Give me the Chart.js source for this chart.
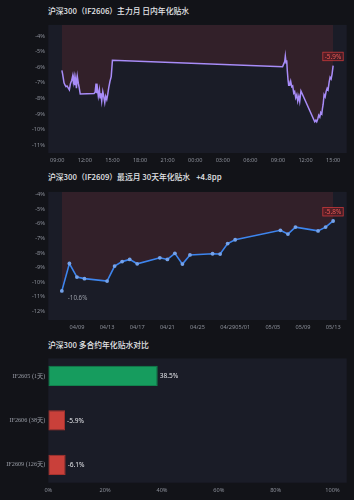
<!DOCTYPE html>
<html>
<head>
<meta charset="utf-8">
<script src="https://cdn.jsdelivr.net/npm/chart.js@4.4.1/dist/chart.umd.min.js"></script>
<style>
  html, body { margin: 0; padding: 0; background: #121318; }
  body { width: 354px; height: 500px; position: relative; overflow: hidden; font-family: 'Noto Sans CJK SC', 'Noto Sans', sans-serif; }
  .title { position: absolute; left: 48px; color: #e4e5e8; font-size: 7.8px; font-weight: 500; line-height: 10px; white-space: pre; }
  .box { position: absolute; left: 0; width: 354px; }
  canvas { display: block; }
</style>
</head>
<body>

<div class="title" style="top:6px">沪深300（IF2606）主力月 日内年化贴水</div>
<div class="box" style="top:18px"><canvas id="intraday-chart" width="354" height="150"></canvas></div>

<div class="title" style="top:172px">沪深300（IF2609）最远月 30天年化贴水<span style="margin-left:6px">+4.8pp</span></div>
<div class="box" style="top:185px"><canvas id="far-month-chart" width="354" height="150"></canvas></div>

<div class="title" style="top:340px">沪深300 多合约年化贴水对比</div>
<div class="box" style="top:347px"><canvas id="contracts-chart" width="354" height="153"></canvas></div>

<script>
/* Intraday annualised discount, IF2606 (two sessions) */
let day1Times = ['09:30', '09:35', '09:40', '09:44', '09:51', '09:57', '10:04', '10:13', '10:19', '10:26',
    '10:34', '10:41', '10:45', '10:50', '10:54', '11:00', '11:05', '11:11', '11:18', '11:22', '11:30',
    '13:00', '13:07', '13:13', '13:17', '13:22', '13:28', '13:35', '13:39', '13:44', '13:50',
    '13:57', '14:03', '14:10', '14:16', '14:23', '14:29', '14:36', '14:44', '14:52', '15:00']
let day1Values = [-6.2, -6.44, -6.74, -7.0, -7.15, -7.25, -7.2, -7.35, -7.45, -7.05,
    -6.85, -6.54, -6.95, -6.64, -7.15, -6.74, -7.35, -6.6, -7.05, -7.25, -7.72,
    -7.68, -7.6, -7.05, -7.66, -7.35, -7.86, -7.45, -7.96, -7.66, -8.17,
    -7.56, -7.86, -8.27, -7.86, -8.07, -7.76, -7.3, -6.9, -6.6, -5.55]

let day2Times = ['09:30', '09:37', '09:44', '09:48', '09:53', '09:57', '10:01', '10:06', '10:10', '10:17',
    '10:23', '10:30', '10:36', '10:43', '10:49', '10:56', '11:03', '11:09', '11:16', '11:22', '11:30',
    '13:00', '13:07', '13:13', '13:20', '13:26', '13:33', '13:39', '13:46', '13:50', '13:55',
    '14:01', '14:08', '14:14', '14:21', '14:27', '14:34', '14:40', '14:47', '14:53', '15:00']
let day2Values = [-5.97, -5.8, -5.63, -5.28, -5.73, -5.55, -6.24, -6.85, -7.15, -7.15,
    -6.9, -7.25, -7.2, -7.66, -7.56, -7.96, -7.76, -8.17, -7.86, -8.2, -7.52,
    -9.5, -9.4, -9.5, -9.3, -9.08, -9.2, -8.9, -9.0, -8.67, -8.37,
    -7.76, -7.9, -7.56, -7.35, -7.45, -6.95, -6.64, -6.75, -6.44, -5.9]

// hours counted from midnight of the first day
let intradayTickHours = [9, 12, 15, 18, 21, 24, 27, 30, 33, 36, 39]

/* Far month IF2609, 30 day annualised discount */
let farDates = ['04/07', '04/08', '04/09', '04/10', '04/13', '04/14', '04/15', '04/16', '04/17', '04/20',
    '04/21', '04/22', '04/23', '04/24', '04/27', '04/28', '04/29', '04/30', '05/06', '05/07',
    '05/08', '05/11', '05/12', '05/13']
let farValues = [-10.6, -8.72, -9.65, -9.76, -9.93, -8.9, -8.59, -8.44, -8.74, -8.33,
    -8.44, -8.02, -8.76, -8.13, -8.05, -8.07, -7.35, -7.09, -6.44, -6.7,
    -6.22, -6.48, -6.22, -5.8]
let farTickDates = ['04/09', '04/13', '04/17', '04/21', '04/25', '04/29', '05/01', '05/05', '05/09', '05/13']

/* Contract comparison */
let contractLabels = ['IF2605 (1天)', 'IF2606 (38天)', 'IF2609 (126天)']
let contractRates = [38.5, -5.9, -6.1]

let year = 2026
let DAY = 86400000

/* Colours */
let plotColor = '#1a1c27'
let fillColor = 'rgba(220, 60, 60, 0.13)'
let tickColor = '#8b8f99'

Chart.defaults.font.family = "'Noto Sans', 'Noto Sans CJK SC', sans-serif"
Chart.defaults.font.size = 5.6
Chart.defaults.color = tickColor
Chart.defaults.animation = false

function toHours(time, dayOffset) {
    let parts = time.split(':')
    return dayOffset * 24 + Number(parts[0]) + Number(parts[1]) / 60
}

function toDay(date) {
    let parts = date.split('/')
    return Date.UTC(year, Number(parts[0]) - 1, Number(parts[1])) / DAY
}

function pad(n) {
    return String(n).padStart(2, '0')
}

// Plot area background, optionally inset from the chart area
let plotBackground = {
    id: 'plotBackground',
    beforeDraw(chart, args, opts) {
        let a = chart.chartArea
        let top = a.top + (opts.insetTop || 0)
        let bottom = a.bottom - (opts.insetBottom || 0)
        chart.ctx.save()
        chart.ctx.fillStyle = plotColor
        chart.ctx.fillRect(a.left, top, a.right - a.left, bottom - top)
        chart.ctx.restore()
    }
}

// Red badge with the latest value, above the last point
let lastValueBadge = {
    id: 'lastValueBadge',
    afterDatasetsDraw(chart, args, opts) {
        if (!opts.show) return
        let ctx = chart.ctx
        let meta = chart.getDatasetMeta(0)
        let data = chart.data.datasets[0].data
        let point = meta.data[data.length - 1]
        let text = data[data.length - 1].y.toFixed(1) + '%'
        ctx.save()
        ctx.font = "6.4px 'Noto Sans'"
        let w = ctx.measureText(text).width + 4
        let h = 8.5
        let x = chart.chartArea.right - 3.5 - w
        let y = point.y - 5 - h
        ctx.fillStyle = 'rgba(150, 30, 35, 0.35)'
        ctx.fillRect(x, y, w, h)
        ctx.strokeStyle = '#c8393b'
        ctx.lineWidth = 0.8
        ctx.strokeRect(x, y, w, h)
        ctx.fillStyle = '#ef5a55'
        ctx.textAlign = 'center'
        ctx.textBaseline = 'middle'
        ctx.fillText(text, x + w / 2, y + h / 2 + 0.3)
        ctx.restore()
    }
}

// Grey label next to the lowest point
let minValueLabel = {
    id: 'minValueLabel',
    afterDatasetsDraw(chart, args, opts) {
        if (!opts.show) return
        let ctx = chart.ctx
        let data = chart.data.datasets[0].data
        let minIndex = 0
        data.forEach((d, i) => { if (d.y < data[minIndex].y) minIndex = i })
        let point = chart.getDatasetMeta(0).data[minIndex]
        ctx.save()
        ctx.font = "6.2px 'Noto Sans'"
        ctx.fillStyle = '#9a9ea8'
        ctx.textBaseline = 'middle'
        ctx.fillText(data[minIndex].y.toFixed(1) + '%', point.x + 6, point.y + 7)
        ctx.restore()
    }
}

// Signed value labels at the end of each bar
let barValueLabels = {
    id: 'barValueLabels',
    afterDatasetsDraw(chart) {
        let ctx = chart.ctx
        ctx.save()
        ctx.font = "6.6px 'Noto Sans'"
        ctx.fillStyle = '#e3e4e8'
        ctx.textBaseline = 'middle'
        chart.getDatasetMeta(0).data.forEach((bar, i) => {
            ctx.fillText(contractRates[i].toFixed(1) + '%', bar.x + 2, bar.y + 0.5)
        })
        ctx.restore()
    }
}

function fixedTicks(values) {
    return function(scale) {
        scale.ticks = values.map(v => ({ value: v }))
    }
}

function lineChartOptions(xMin, xMax, yMin, yMax, xTicks, xFormat, plugins) {
    return {
        responsive: false,
        layout: { padding: { left: 0, right: 7.3, top: 0, bottom: 0 } },
        plugins: Object.assign({ legend: { display: false }, tooltip: { enabled: false } }, plugins),
        scales: {
            x: {
                type: 'linear',
                min: xMin,
                max: xMax,
                grid: { display: false, drawTicks: false },
                border: { display: false },
                afterBuildTicks: fixedTicks(xTicks),
                afterFit: scale => { scale.height = 15 },
                ticks: { autoSkip: false, maxRotation: 0, padding: 4, callback: xFormat }
            },
            y: {
                min: yMin,
                max: yMax,
                grid: { display: false, drawTicks: false },
                border: { display: false },
                afterFit: scale => { scale.width = 48.3 },
                ticks: { stepSize: 1, includeBounds: false, padding: 3.5, callback: v => v + '%' }
            }
        }
    }
}

/* Chart 1: intraday */
let intradayPoints = day1Times.map((t, i) => ({ x: toHours(t, 0), y: day1Values[i] }))
    .concat(day2Times.map((t, i) => ({ x: toHours(t, 1), y: day2Values[i] })))
let intradayAll = day1Values.concat(day2Values)
let hFirst = intradayPoints[0].x
let hLast = intradayPoints[intradayPoints.length - 1].x
let hPad = (hLast - hFirst) * 0.05

new Chart(document.querySelector('#intraday-chart'), {
    type: 'line',
    data: {
        datasets: [{
            data: intradayPoints,
            borderColor: '#a88cf8',
            borderWidth: 1.5,
            backgroundColor: fillColor,
            fill: 'end',
            pointRadius: 0,
            tension: 0
        }]
    },
    options: lineChartOptions(
        hFirst - hPad, hLast + hPad,
        Math.min(...intradayAll) - 2, Math.max(...intradayAll) + 2,
        intradayTickHours,
        v => pad(Math.round(v) % 24) + ':00',
        { lastValueBadge: { show: true } }
    ),
    plugins: [plotBackground, lastValueBadge]
})

/* Chart 2: far month */
let farPoints = farDates.map((d, i) => ({ x: toDay(d), y: farValues[i] }))
let dFirst = farPoints[0].x
let dLast = farPoints[farPoints.length - 1].x
let dPad = (dLast - dFirst) * 0.05

new Chart(document.querySelector('#far-month-chart'), {
    type: 'line',
    data: {
        datasets: [{
            data: farPoints,
            borderColor: '#3d85ee',
            borderWidth: 1.6,
            backgroundColor: fillColor,
            fill: 'end',
            pointRadius: 1.9,
            pointBackgroundColor: '#74a2ea',
            pointBorderWidth: 0,
            tension: 0
        }]
    },
    options: lineChartOptions(
        dFirst - dPad, dLast + dPad,
        Math.min(...farValues) - 2, Math.max(...farValues) + 2,
        farTickDates.map(toDay),
        v => {
            let d = new Date(Math.round(v) * DAY)
            return pad(d.getUTCMonth() + 1) + '/' + pad(d.getUTCDate())
        },
        { lastValueBadge: { show: true }, minValueLabel: { show: true } }
    ),
    plugins: [plotBackground, lastValueBadge, minValueLabel]
})

/* Chart 3: contract comparison, bar length is the size of the discount */
new Chart(document.querySelector('#contracts-chart'), {
    type: 'bar',
    data: {
        labels: contractLabels,
        datasets: [{
            data: contractRates.map(v => Math.abs(v)),
            backgroundColor: contractRates.map(v => v >= 0 ? '#169c5e' : '#c9403a'),
            borderColor: contractRates.map(v => v >= 0 ? '#11824d' : '#a8332e'),
            borderWidth: 1,
            borderSkipped: false,
            categoryPercentage: 0.8,
            barPercentage: 0.57
        }]
    },
    options: {
        indexAxis: 'y',
        responsive: false,
        layout: { padding: { left: 0, right: 7.3, top: 0, bottom: 0 } },
        plugins: {
            legend: { display: false },
            tooltip: { enabled: false },
            plotBackground: { insetTop: 4.7, insetBottom: 4.3 }
        },
        scales: {
            x: {
                min: 0,
                max: 105,
                grid: { display: false, drawTicks: false },
                border: { display: false },
                afterFit: scale => { scale.height = 13 },
                ticks: { stepSize: 20, includeBounds: false, maxRotation: 0, padding: 0, callback: v => v + '%' }
            },
            y: {
                grid: { display: false, drawTicks: false },
                border: { display: false },
                afterFit: scale => { scale.width = 48.3 },
                ticks: {
                    padding: 3,
                    color: '#9a9ea7',
                    font: { family: "'Liberation Serif', 'Noto Sans CJK SC', serif", size: 6.2 }
                }
            }
        }
    },
    plugins: [plotBackground, barValueLabels]
})
</script>
</body>
</html>
